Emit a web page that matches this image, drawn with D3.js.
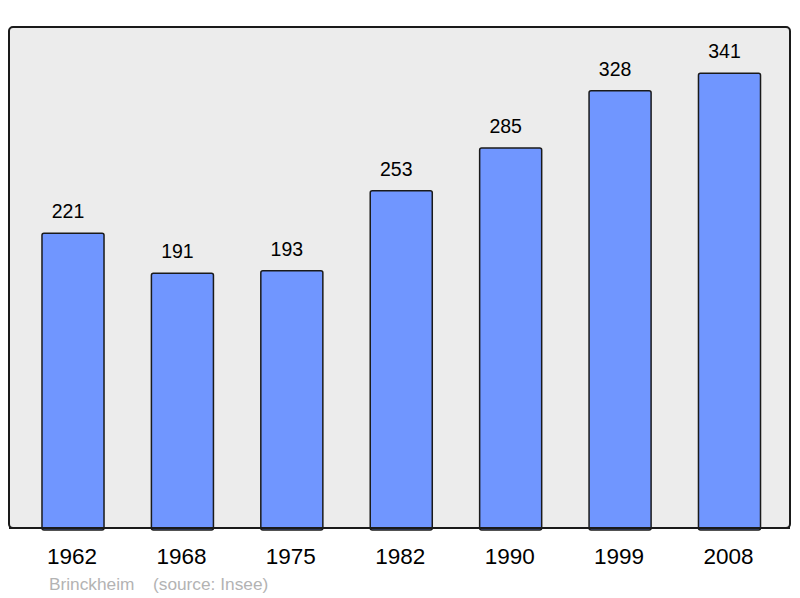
<!DOCTYPE html>
<html>
<head>
<meta charset="utf-8">
<script src="https://cdn.jsdelivr.net/npm/d3@7"></script>
<style>
  body { margin: 0; background: #fff; }
  text { font-family: "Liberation Sans", Arial, sans-serif; }
</style>
</head>
<body>
<div id="chart"></div>
<script>
var years = ["1962", "1968", "1975", "1982", "1990", "1999", "2008"];
var population = [221, 191, 193, 253, 285, 328, 341];
var commune = "Brinckheim";
var source = "(source: Insee)";

var svg = d3.select("#chart").append("svg")
    .attr("width", 800)
    .attr("height", 598);

// plot frame
svg.append("rect")
    .attr("x", 9).attr("y", 27)
    .attr("width", 781).attr("height", 501)
    .attr("rx", 4)
    .attr("fill", "#ececec")
    .attr("stroke", "#1a1a1a")
    .attr("stroke-width", 2);

var x = d3.scaleBand()
    .domain(years)
    .range([18.3, 784.2])
    .paddingInner(0.433)
    .paddingOuter(0.2165);

var y = d3.scaleLinear()
    .domain([0, 375])
    .range([528, 28]);

var data = years.map(function(d, i) { return { year: d, value: population[i] }; });

svg.selectAll("rect.bar")
    .data(data)
    .enter().append("rect")
    .attr("class", "bar")
    .attr("x", function(d) { return x(d.year); })
    .attr("y", function(d) { return y(d.value); })
    .attr("width", x.bandwidth())
    .attr("height", function(d) { return y(0) - y(d.value) + 2; })
    .attr("rx", 2)
    .attr("fill", "#7096ff")
    .attr("stroke", "#1a1a1a")
    .attr("stroke-width", 1.5);

// redraw bottom border on top of bars
svg.append("line")
    .attr("x1", 9).attr("x2", 790)
    .attr("y1", 528).attr("y2", 528)
    .attr("stroke", "#1a1a1a")
    .attr("stroke-width", 2);

svg.selectAll("text.val")
    .data(data)
    .enter().append("text")
    .attr("class", "val")
    .attr("x", function(d) { return x(d.year) + x.bandwidth() / 2 - 5; })
    .attr("y", function(d) { return y(d.value) - 15; })
    .attr("text-anchor", "middle")
    .attr("font-size", 19.5)
    .attr("fill", "#000")
    .text(function(d) { return d.value; });

svg.selectAll("text.year")
    .data(years)
    .enter().append("text")
    .attr("class", "year")
    .attr("x", function(d) { return x(d) + x.bandwidth() / 2 - 1; })
    .attr("y", 564)
    .attr("text-anchor", "middle")
    .attr("font-size", 22.5)
    .attr("fill", "#000")
    .text(function(d) { return d; });

svg.append("text")
    .attr("x", 49).attr("y", 590)
    .attr("font-size", 17.3)
    .attr("fill", "#b3b3b3")
    .text(commune);

svg.append("text")
    .attr("x", 153).attr("y", 590)
    .attr("font-size", 17.3)
    .attr("fill", "#b3b3b3")
    .text(source);
</script>
</body>
</html>
